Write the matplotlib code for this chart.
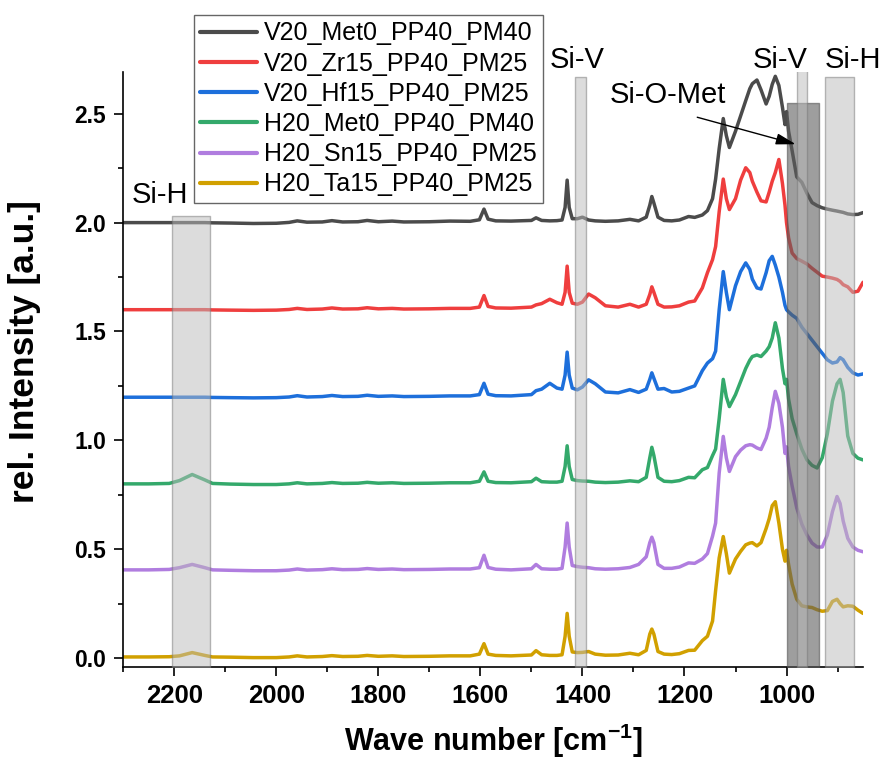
import matplotlib
matplotlib.use("Agg")
import matplotlib.pyplot as plt
from matplotlib.ticker import MultipleLocator

plt.rcParams['font.family'] = ['Liberation Sans', 'DejaVu Sans']
plt.rcParams['mathtext.fontset'] = 'custom'
plt.rcParams['mathtext.rm'] = 'Liberation Sans:bold'
plt.rcParams['mathtext.bf'] = 'Liberation Sans:bold'
plt.rcParams['mathtext.default'] = 'bf'

# ---- data -------------------------------------------------------------
wavenumber = [2300, 2250, 2210, 2190, 2165, 2140, 2125, 2090, 2045, 2000,
              1975, 1959, 1940, 1910, 1891, 1870, 1840, 1822, 1800, 1773,
              1750, 1700, 1660, 1620, 1602, 1593, 1585, 1570, 1540, 1500,
              1491, 1480, 1464, 1450, 1440, 1434, 1430, 1426, 1420, 1410,
              1400, 1388, 1375, 1355, 1330, 1307, 1290, 1275, 1268, 1264,
              1260, 1252, 1240, 1225, 1210, 1192, 1180, 1165, 1155, 1145,
              1139, 1132, 1124, 1118, 1112, 1100, 1090, 1080, 1072, 1067,
              1058, 1050, 1040, 1034, 1028, 1022, 1015, 1008, 1003, 1000,
              996, 989, 980, 970, 960, 950, 940, 930, 920, 910,
              901, 895, 889, 880, 870, 860, 850]

v20_met0 = [2.000, 2.000, 2.000, 2.000, 2.000, 2.000, 1.999, 1.998, 1.996, 1.997,
            2.001, 2.008, 2.002, 2.003, 2.009, 2.003, 2.004, 2.010, 2.004, 2.007,
            2.003, 2.004, 2.007, 2.006, 2.013, 2.062, 2.016, 2.008, 2.007, 2.010,
            2.022, 2.010, 2.008, 2.009, 2.012, 2.070, 2.195, 2.070, 2.018, 2.018,
            2.025, 2.012, 2.008, 2.006, 2.008, 2.015, 2.008, 2.025, 2.080, 2.120,
            2.090, 2.025, 2.010, 2.008, 2.012, 2.028, 2.024, 2.035, 2.055, 2.110,
            2.200, 2.340, 2.478, 2.400, 2.345, 2.420, 2.490, 2.560, 2.615, 2.638,
            2.655, 2.610, 2.545, 2.580, 2.635, 2.672, 2.630, 2.530, 2.450, 2.510,
            2.420, 2.330, 2.210, 2.185, 2.135, 2.092, 2.078, 2.068, 2.062, 2.057,
            2.053, 2.050, 2.047, 2.040, 2.037, 2.038, 2.046]

v20_zr15 = [1.600, 1.600, 1.600, 1.600, 1.600, 1.600, 1.599, 1.598, 1.597, 1.598,
            1.601, 1.606, 1.601, 1.603, 1.608, 1.603, 1.604, 1.609, 1.604, 1.606,
            1.603, 1.604, 1.606, 1.606, 1.612, 1.665, 1.615, 1.608, 1.607, 1.612,
            1.622, 1.628, 1.648, 1.632, 1.625, 1.680, 1.800, 1.680, 1.630, 1.625,
            1.635, 1.672, 1.655, 1.618, 1.612, 1.625, 1.612, 1.625, 1.670, 1.705,
            1.680, 1.625, 1.612, 1.613, 1.618, 1.635, 1.640, 1.700, 1.770, 1.830,
            1.890, 2.050, 2.200, 2.110, 2.060, 2.110, 2.195, 2.252, 2.230, 2.190,
            2.140, 2.100, 2.095, 2.140, 2.190, 2.230, 2.290, 2.180, 2.080, 2.000,
            1.930, 1.860, 1.835, 1.823, 1.810, 1.790, 1.772, 1.754, 1.750, 1.745,
            1.739, 1.730, 1.715, 1.705, 1.680, 1.685, 1.726]

v20_hf15 = [1.198, 1.198, 1.198, 1.198, 1.198, 1.198, 1.197, 1.196, 1.195, 1.196,
            1.199, 1.205, 1.199, 1.201, 1.206, 1.201, 1.202, 1.207, 1.202, 1.204,
            1.201, 1.202, 1.204, 1.204, 1.210, 1.262, 1.212, 1.205, 1.204, 1.210,
            1.228, 1.235, 1.262, 1.240, 1.235, 1.300, 1.405, 1.300, 1.240, 1.232,
            1.245, 1.278, 1.260, 1.222, 1.218, 1.233, 1.220, 1.235, 1.280, 1.310,
            1.285, 1.235, 1.238, 1.222, 1.225, 1.240, 1.250, 1.320, 1.355, 1.375,
            1.410, 1.600, 1.775, 1.680, 1.600, 1.710, 1.775, 1.815, 1.785, 1.740,
            1.700, 1.695, 1.770, 1.825, 1.845, 1.805, 1.750, 1.680, 1.620, 1.600,
            1.590, 1.575, 1.560, 1.520, 1.490, 1.460, 1.430, 1.400, 1.370, 1.355,
            1.360, 1.380, 1.370, 1.335, 1.310, 1.300, 1.305]

h20_met0 = [0.800, 0.800, 0.802, 0.815, 0.843, 0.818, 0.802, 0.799, 0.797, 0.797,
            0.800, 0.805, 0.800, 0.802, 0.806, 0.802, 0.803, 0.807, 0.803, 0.805,
            0.802, 0.803, 0.805, 0.805, 0.812, 0.855, 0.812, 0.806, 0.805, 0.810,
            0.826, 0.810, 0.808, 0.808, 0.812, 0.880, 0.975, 0.880, 0.820, 0.815,
            0.813, 0.812, 0.808, 0.806, 0.808, 0.814, 0.810, 0.830, 0.920, 0.968,
            0.930, 0.830, 0.812, 0.810, 0.815, 0.830, 0.828, 0.865, 0.875, 0.930,
            0.960, 1.100, 1.280, 1.200, 1.155, 1.210, 1.270, 1.330, 1.368, 1.385,
            1.392, 1.385, 1.410, 1.430, 1.470, 1.540, 1.470, 1.330, 1.260, 1.280,
            1.190, 1.100, 1.030, 0.960, 0.910, 0.885, 0.873, 0.920, 1.030, 1.180,
            1.260, 1.280, 1.220, 1.020, 0.940, 0.918, 0.910]

h20_sn15 = [0.405, 0.405, 0.407, 0.415, 0.430, 0.415, 0.405, 0.403, 0.401, 0.401,
            0.404, 0.409, 0.404, 0.406, 0.410, 0.406, 0.407, 0.411, 0.407, 0.409,
            0.406, 0.407, 0.409, 0.409, 0.415, 0.472, 0.416, 0.408, 0.405, 0.410,
            0.430, 0.410, 0.408, 0.408, 0.412, 0.510, 0.620, 0.510, 0.425, 0.420,
            0.417, 0.415, 0.410, 0.408, 0.410, 0.416, 0.430, 0.465, 0.530, 0.555,
            0.530, 0.430, 0.412, 0.412, 0.418, 0.437, 0.435, 0.455, 0.480, 0.560,
            0.620, 0.850, 1.018, 0.920, 0.857, 0.925, 0.955, 0.975, 0.980, 0.978,
            0.965, 0.958, 1.010, 1.060, 1.150, 1.225, 1.170, 1.060, 0.940, 0.970,
            0.880, 0.790, 0.690, 0.615, 0.565, 0.528, 0.510, 0.510, 0.565, 0.672,
            0.742, 0.710, 0.630, 0.550, 0.510, 0.495, 0.488]

h20_ta15 = [0.005, 0.005, 0.006, 0.010, 0.025, 0.012, 0.005, 0.004, 0.002, 0.002,
            0.005, 0.010, 0.005, 0.007, 0.011, 0.007, 0.008, 0.012, 0.008, 0.010,
            0.007, 0.008, 0.010, 0.010, 0.018, 0.066, 0.018, 0.012, 0.010, 0.014,
            0.034, 0.015, 0.012, 0.012, 0.015, 0.100, 0.205, 0.100, 0.028, 0.025,
            0.026, 0.030, 0.018, 0.013, 0.014, 0.022, 0.015, 0.035, 0.110, 0.133,
            0.110, 0.030, 0.018, 0.016, 0.020, 0.035, 0.036, 0.080, 0.100, 0.170,
            0.310, 0.460, 0.558, 0.480, 0.390, 0.455, 0.490, 0.520, 0.528, 0.530,
            0.515, 0.530, 0.595, 0.640, 0.700, 0.718, 0.620, 0.500, 0.445, 0.495,
            0.430, 0.340, 0.270, 0.240, 0.235, 0.232, 0.222, 0.215, 0.218, 0.260,
            0.270, 0.250, 0.235, 0.240, 0.238, 0.220, 0.205]

series_names = ["V20_Met0_PP40_PM40", "V20_Zr15_PP40_PM25", "V20_Hf15_PP40_PM25",
                "H20_Met0_PP40_PM40", "H20_Sn15_PP40_PM25", "H20_Ta15_PP40_PM25"]
series_values = [v20_met0, v20_zr15, v20_hf15, h20_met0, h20_sn15, h20_ta15]
series_colors = ["#4b4b4b", "#ef3e3e", "#1d6fdb", "#34a96b", "#b07ddf", "#d1a000"]

# marked bands: (label, high wavenumber, low wavenumber, top)
band_light = [("Si-H", 2205, 2130, 2.03),
              ("Si-V", 1415, 1393, 2.667),
              ("Si-V", 980, 959, 2.70),
              ("Si-H", 925, 867, 2.667)]
band_dark = ("Si-O-Met", 1000, 936, 2.55)

x_ticks = [2200, 2000, 1800, 1600, 1400, 1200, 1000]
y_ticks = [0.0, 0.5, 1.0, 1.5, 2.0, 2.5]

# ---- figure -----------------------------------------------------------
fig = plt.figure(figsize=(8.87, 7.62), dpi=100)
ax = fig.add_axes([0.139, 0.125, 0.834, 0.780])

for name, vals, col in zip(series_names, series_values, series_colors):
    ax.plot(wavenumber, vals, color=col, lw=2.5, label=name,
            solid_joinstyle='round', solid_capstyle='round', zorder=2)

ymin, ymax = -0.04, 2.69
ax.set_xlim(2300, 850)
ax.set_ylim(ymin, ymax)

# dark band under the light ones
_, hi, lo, top = band_dark
ax.fill_between([lo, hi], ymin, top, facecolor="#5d5d5d", alpha=0.6,
                edgecolor="#555555", lw=1.0, zorder=3)
for _, hi, lo, top in band_light:
    ax.fill_between([lo, hi], ymin, top, facecolor="#bbbbbb", alpha=0.5,
                    edgecolor="#777777", lw=1.0, zorder=4)

label_kw = dict(fontsize=21, ha="center", va="center", color="black")
ax.text(2228, 2.125, "Si-H", **label_kw)
ax.text(1410, 2.745, "Si-V", clip_on=False, **label_kw)
ax.text(1013, 2.745, "Si-V", clip_on=False, **label_kw)
ax.text(869, 2.745, "Si-H", clip_on=False, **label_kw)
ax.text(1232, 2.585, "Si-O-Met", **label_kw)
ax.annotate("", xy=(982, 2.36), xytext=(1175, 2.484),
            arrowprops=dict(arrowstyle="-|>,head_length=0.6,head_width=0.17",
                            color="black", lw=1.0, mutation_scale=20,
                            shrinkA=0, shrinkB=0), zorder=6)

# axes styling
for s in ("top", "right"):
    ax.spines[s].set_visible(False)
for s in ("left", "bottom"):
    ax.spines[s].set_linewidth(1.2)
ax.set_xticks(x_ticks)
ax.set_yticks(y_ticks)
ax.xaxis.set_minor_locator(MultipleLocator(100))
ax.yaxis.set_minor_locator(MultipleLocator(0.25))
ax.tick_params(which="major", direction="out", length=6.5, width=1.2)
ax.tick_params(which="minor", direction="out", length=3.5, width=1.2)
ax.tick_params(axis="y", pad=6)
ax.tick_params(axis="x", pad=6)
ax.set_yticklabels([f"{v:.1f}" for v in y_ticks], fontsize=16.5, fontweight="bold")
ax.set_xticklabels([str(v) for v in x_ticks], fontsize=18.5, fontweight="bold")

ax.set_xlabel(r"Wave number [cm$^{-1}$]", fontsize=22, fontweight="bold", labelpad=10)
ax.set_ylabel("rel. Intensity [a.u.]", fontsize=25.5, fontweight="bold")
ax.yaxis.set_label_coords(-0.111, 0.531)

leg = ax.legend(loc="upper left", bbox_to_anchor=(194 / 887, 1 - 15 / 762),
                bbox_transform=fig.transFigure, fontsize=18, frameon=True,
                fancybox=False, edgecolor="#666666", framealpha=1,
                handlelength=2.25, handletextpad=0.3, labelspacing=0.25,
                borderpad=0.25, borderaxespad=0)
leg.get_frame().set_linewidth(1.0)
for line in leg.get_lines():
    line.set_linewidth(3.0)

fig.savefig("out.png", dpi=100)
